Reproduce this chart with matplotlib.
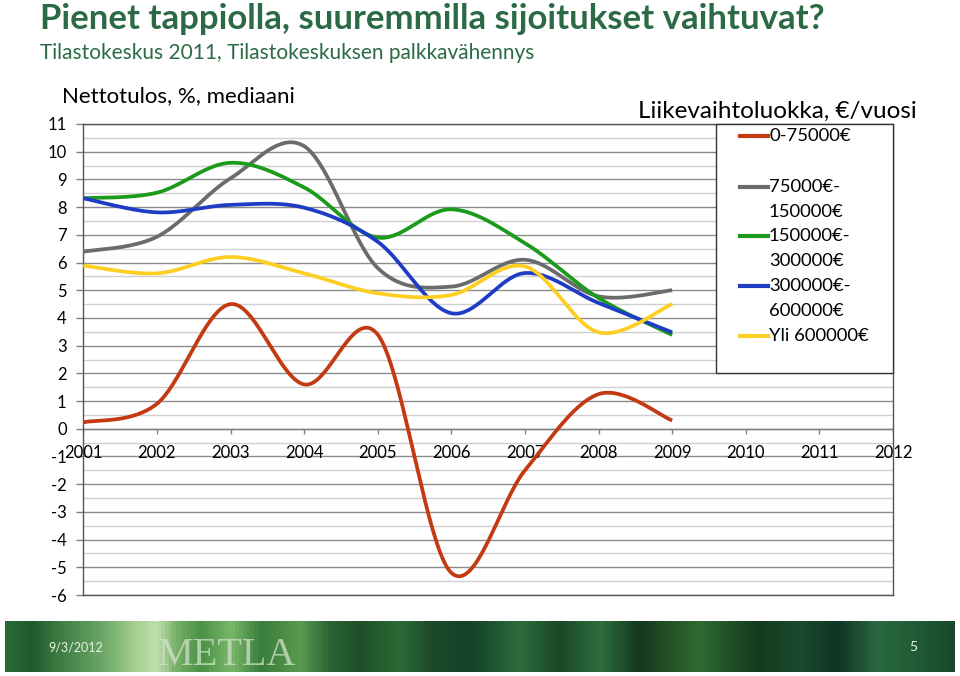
import numpy as np
import matplotlib
matplotlib.use("Agg")
import matplotlib.pyplot as plt
from matplotlib.colors import LinearSegmentedColormap
from matplotlib.lines import Line2D
from matplotlib.patches import Rectangle

plt.rcParams['font.family'] = ['Lato', 'DejaVu Sans']
plt.rcParams['axes.unicode_minus'] = False

years = [2001, 2002, 2003, 2004, 2005, 2006, 2007, 2008, 2009]
all_years = list(range(2001, 2013))

series_names = ["0-75000€", "75000€-\n150000€", "150000€-\n300000€",
                "300000€-\n600000€", "Yli 600000€"]
series_colors = ["#c33a12", "#6b6b6b", "#1c9a1c", "#1f3cc4", "#fdcf22"]

red = [0.23, 0.9, 4.5, 1.6, 3.4, -5.2, -1.5, 1.25, 0.3]
gray = [6.39, 6.93, 9.04, 10.2, 5.8, 5.13, 6.1, 4.78, 5.0]
green = [8.32, 8.52, 9.6, 8.71, 6.9, 7.92, 6.7, 4.72, 3.39]
blue = [8.32, 7.81, 8.08, 7.98, 6.75, 4.17, 5.62, 4.54, 3.48]
yellow = [5.89, 5.61, 6.2, 5.61, 4.89, 4.83, 5.86, 3.48, 4.5]
series_values = [red, gray, green, blue, yellow]

title_green = "#2b6a44"


def smooth(xs, ys, n=40):
    # Excel style smoothed line: bezier with catmull-rom control points
    pts = np.column_stack([xs, ys]).astype(float)
    out = []
    for i in range(len(pts) - 1):
        p0 = pts[i - 1] if i > 0 else pts[i]
        p1 = pts[i]
        p2 = pts[i + 1]
        p3 = pts[i + 2] if i + 2 < len(pts) else pts[i + 1]
        c1 = p1 + (p2 - p0) / 6
        c2 = p2 - (p3 - p1) / 6
        t = np.linspace(0, 1, n)[:, None]
        seg = (1 - t) ** 3 * p1 + 3 * (1 - t) ** 2 * t * c1 \
            + 3 * (1 - t) * t ** 2 * c2 + t ** 3 * p2
        out.append(seg if i == 0 else seg[1:])
    return np.vstack(out)


fig = plt.figure(figsize=(9.6, 6.76), dpi=100)
W, H = 960.0, 676.0

# titles
fig.text(40 / W, 1 - 19 / H, "Pienet tappiolla, suuremmilla sijoitukset vaihtuvat?",
         fontsize=25, fontweight='bold', color=title_green, va='center')
fig.text(40 / W, 1 - 53 / H, "Tilastokeskus 2011, Tilastokeskuksen palkkavähennys",
         fontsize=15, color=title_green, va='center')
fig.text(62 / W, 1 - 96 / H, "Nettotulos, %, mediaani", fontsize=16, va='center')
fig.text(638 / W, 1 - 111 / H, "Liikevaihtoluokka, €/vuosi", fontsize=17.5, va='center')

# chart
ax = fig.add_axes([83.3 / W, 1 - 595 / H, (893 - 83.3) / W, (595 - 124) / H])
ax.set_xlim(2001, 2012)
ax.set_ylim(-6, 11)
ax.set_yticks(range(-6, 12))
ax.set_yticks(np.arange(-5.5, 11, 1.0), minor=True)
ax.yaxis.grid(True, which='major', color='#8c8c8c', lw=1)
ax.yaxis.grid(True, which='minor', color='#cfcfcf', lw=1)
ax.set_axisbelow(True)
ax.tick_params(axis='y', which='major', length=5, width=1, color='#808080',
               labelsize=12, pad=7)
ax.tick_params(axis='y', which='minor', length=0)
ax.set_xticks([])
for sp in ax.spines.values():
    sp.set_color('#555555')
    sp.set_linewidth(1)

# horizontal axis crossing at zero
ax.axhline(0, color='#808080', lw=1, zorder=2)
ax.vlines(all_years, -0.18, 0, color='#808080', lw=1, zorder=2)
for yr in all_years:
    ax.text(yr, -0.87, str(yr), ha='center', va='center', fontsize=12)

for vals, col in zip(series_values, series_colors):
    curve = smooth(years, vals)
    ax.plot(curve[:, 0], curve[:, 1], color=col, lw=2.7, solid_capstyle='butt',
            zorder=3)

# legend box drawn in figure pixels
lx0, ly0, lx1, ly1 = 716, 124, 893, 373
fig.patches.append(Rectangle((lx0 / W, 1 - ly1 / H), (lx1 - lx0) / W, (ly1 - ly0) / H,
                             transform=fig.transFigure, facecolor='white',
                             edgecolor='#333333', lw=1, zorder=5))
row_y = [136, 187, 236, 286, 336]
for name, col, yy in zip(series_names, series_colors, row_y):
    fig.lines.append(Line2D([740 / W, 768 / W], [1 - yy / H, 1 - yy / H],
                            transform=fig.transFigure, color=col, lw=3, zorder=6))
    for k, part in enumerate(name.split("\n")):
        fig.text(769 / W, 1 - (yy + 25 * k) / H, part, fontsize=13.3,
                 va='center', zorder=7)

# footer band
stops = [(5, "#2a6a35"), (30, "#1f5a2c"), (60, "#3f7f45"), (100, "#6aa565"),
         (130, "#9fcb8a"), (155, "#c0dfae"), (175, "#78b068"), (200, "#4a9045"),
         (230, "#7ab86a"), (260, "#3a7c3c"), (300, "#5a9a50"), (330, "#2a6232"),
         (360, "#1e4f28"), (400, "#2c6a36"), (430, "#1d4a2a"), (470, "#15402a"),
         (520, "#2c6c3c"), (560, "#1a4826"), (600, "#2d6e3e"), (640, "#15381f"),
         (700, "#2f6a30"), (760, "#143a1f"), (800, "#1a4a2e"), (840, "#0f3523"),
         (880, "#2a6a40"), (920, "#1f5a35"), (955, "#17492a")]
cmap = LinearSegmentedColormap.from_list(
    "band", [((x - 5) / 950, c) for x, c in stops])
fax = fig.add_axes([5 / W, 1 - 672 / H, 950 / W, 51 / H])
fax.imshow(np.linspace(0, 1, 950)[None, :], aspect='auto', cmap=cmap,
           extent=[5, 955, 672, 621])
fax.set_xlim(5, 955)
fax.set_ylim(672, 621)
fax.axis('off')
fax.text(48, 647, "9/3/2012", color='#e8f2e4', fontsize=9, va='center')
fax.text(158, 674, "METLA", color='#cfe3c8', alpha=0.75, fontsize=29,
         family='Liberation Serif', va='bottom')
fax.text(909, 647, "5", color='#e8f2e4', fontsize=10, va='center')

fig.savefig("out.png", dpi=100)
